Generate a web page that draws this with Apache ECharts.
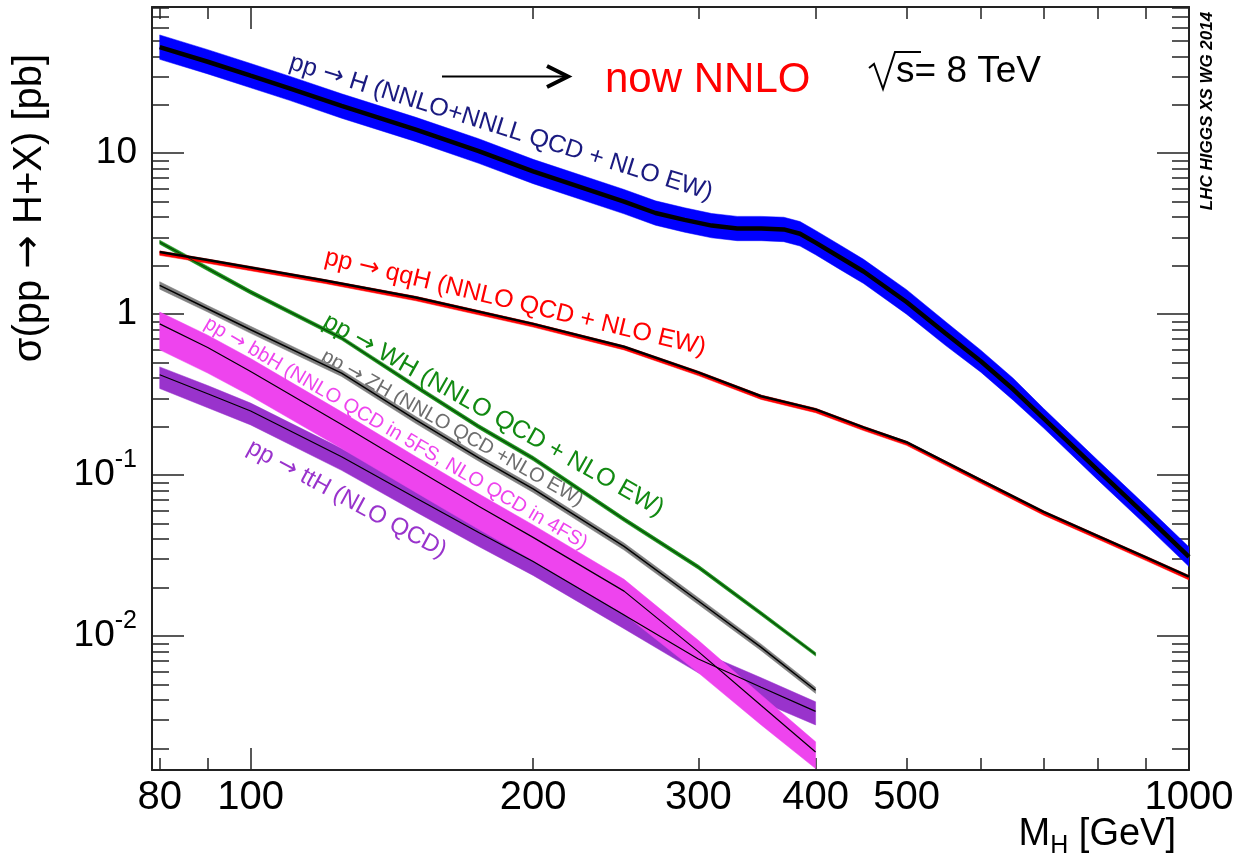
<!DOCTYPE html>
<html>
<head>
<meta charset="utf-8">
<script src="https://cdn.jsdelivr.net/npm/echarts@6.0.0/dist/echarts.min.js"></script>
<style>
  html, body { margin: 0; padding: 0; background: #fff; }
  #main { width: 1234px; height: 864px; }
</style>
</head>
<body>
<div id="main"></div>
<script>
// Higgs mass points (GeV) and cross sections (pb)
var massGGF = [80, 90, 100, 110, 125, 150, 175, 200, 250, 270, 290, 310, 330, 350, 370, 385, 400, 425, 450, 500, 550, 600, 650, 700, 800, 900, 1000];
var ggF   = [45.6, 37.0, 30.3, 25.3, 19.7, 14.0, 10.3, 7.7, 5.0, 4.25, 3.85, 3.55, 3.40, 3.40, 3.36, 3.16, 2.78, 2.25, 1.84, 1.19, 0.76, 0.51, 0.34, 0.225, 0.107, 0.056, 0.031];
var ggFHi = [54.3, 44.0, 36.1, 30.1, 23.4, 16.7, 12.3, 9.16, 5.95, 5.06, 4.58, 4.22, 4.05, 4.05, 4.00, 3.76, 3.31, 2.68, 2.19, 1.42, 0.90, 0.597, 0.398, 0.259, 0.123, 0.0644, 0.0357];
var ggFLo = [38.3, 31.1, 25.5, 21.3, 16.5, 11.8, 8.65, 6.47, 4.20, 3.57, 3.23, 2.98, 2.86, 2.86, 2.82, 2.65, 2.34, 1.89, 1.55, 1.00, 0.64, 0.436, 0.291, 0.196, 0.093, 0.0487, 0.027];

var massVBF = [80, 90, 100, 120, 150, 200, 250, 300, 350, 400, 450, 500, 600, 700, 800, 900, 1000];
var vbf   = [2.43, 2.17, 1.95, 1.62, 1.27, 0.87, 0.627, 0.435, 0.309, 0.256, 0.198, 0.16, 0.093, 0.059, 0.0418, 0.0308, 0.0234];
var vbfHi = [2.47, 2.20, 1.98, 1.64, 1.29, 0.883, 0.636, 0.442, 0.314, 0.260, 0.201, 0.162, 0.0944, 0.0599, 0.0424, 0.0313, 0.0238];
var vbfLo = [2.32, 2.07, 1.86, 1.55, 1.21, 0.831, 0.599, 0.415, 0.295, 0.244, 0.189, 0.153, 0.0888, 0.0563, 0.0399, 0.0294, 0.0223];

// the associated production curves stop at 400 GeV
var massLow = [80, 90, 100, 125, 150, 175, 200, 250, 300, 350, 400];
var wh    = [2.80, 1.92, 1.37, 0.71, 0.355, 0.20, 0.127, 0.053, 0.0268, 0.0138, 0.0077];
var whHi  = [2.88, 1.98, 1.41, 0.73, 0.366, 0.206, 0.131, 0.0546, 0.0276, 0.0142, 0.0079];
var whLo  = [2.72, 1.86, 1.33, 0.69, 0.344, 0.194, 0.123, 0.0514, 0.0260, 0.0134, 0.0075];
var zh    = [1.51, 1.08, 0.80, 0.43, 0.22, 0.128, 0.082, 0.036, 0.0165, 0.0085, 0.0046];
var zhHi  = [1.59, 1.13, 0.84, 0.45, 0.231, 0.134, 0.086, 0.0378, 0.0173, 0.0089, 0.0048];
var zhLo  = [1.43, 1.03, 0.76, 0.41, 0.209, 0.122, 0.078, 0.0342, 0.0157, 0.0081, 0.0044];
var bbh   = [0.87, 0.62, 0.44, 0.206, 0.109, 0.064, 0.041, 0.019, 0.0080, 0.0037, 0.0019];
var bbhHi = [1.03, 0.74, 0.53, 0.247, 0.130, 0.0765, 0.049, 0.0225, 0.0094, 0.0043, 0.0022];
var bbhLo = [0.60, 0.43, 0.31, 0.146, 0.078, 0.046, 0.0295, 0.0137, 0.0059, 0.0028, 0.0015];
var tth   = [0.42, 0.32, 0.25, 0.13, 0.072, 0.044, 0.029, 0.0135, 0.0072, 0.0048, 0.0034];
var tthHi = [0.47, 0.36, 0.28, 0.146, 0.081, 0.0495, 0.0325, 0.0152, 0.0081, 0.0055, 0.0039];
var tthLo = [0.345, 0.262, 0.205, 0.107, 0.059, 0.036, 0.0238, 0.0111, 0.0059, 0.0039, 0.0028];

// axis ticks and labels
var xLabels = [80, 100, 200, 300, 400, 500, 1000];
var xMajor = [100, 1000];
var xMinor = [80, 90, 200, 300, 400, 500, 600, 700, 800, 900];
var yLabels = [0.01, 0.1, 1, 10];
var yMinor = [0.002, 0.003, 0.004, 0.005, 0.006, 0.007, 0.008, 0.009,
              0.02, 0.03, 0.04, 0.05, 0.06, 0.07, 0.08, 0.09,
              0.2, 0.3, 0.4, 0.5, 0.6, 0.7, 0.8, 0.9,
              2, 3, 4, 5, 6, 7, 8, 9,
              20, 30, 40, 50, 60, 70, 80];

var FONT = '"Liberation Sans", Arial, Helvetica, sans-serif';
var ARROW_FONT = '"DejaVu Sans", sans-serif';
var X_MIN = 78.5, X_MAX = 1000, Y_MIN = 0.00147, Y_MAX = 81;
var AX = '#222';

function pairs(xs, ys) {
  return xs.map(function (x, i) { return [x, ys[i]]; });
}

// filled uncertainty band drawn as one polygon through the axis scales
function band(xs, lo, hi, color) {
  return {
    type: 'custom',
    clip: true,
    silent: true,
    data: xs.map(function (x, i) { return [x, lo[i], hi[i]]; }),
    encode: { x: 0, y: [1, 2] },
    renderItem: function (params, api) {
      if (params.dataIndex !== 0) return null;
      var pts = [];
      for (var i = 0; i < xs.length; i++) pts.push(api.coord([xs[i], hi[i]]));
      for (var j = xs.length - 1; j >= 0; j--) pts.push(api.coord([xs[j], lo[j]]));
      return { type: 'polygon', shape: { points: pts }, style: { fill: color, stroke: color, lineWidth: 0.5 } };
    }
  };
}

function curve(xs, ys, width, color) {
  return {
    type: 'line',
    silent: true,
    symbol: 'none',
    data: pairs(xs, ys),
    lineStyle: { color: color || '#000', width: width }
  };
}

function xAxisDef(pos, ticks, len, withLine, labels) {
  return {
    type: 'log', min: X_MIN, max: X_MAX, position: pos,
    axisLine: { show: withLine, onZero: false, lineStyle: { color: AX, width: 2 } },
    axisTick: { show: true, inside: true, length: len, customValues: ticks, lineStyle: { color: AX, width: 1.5 } },
    axisLabel: labels ? {
      customValues: labels, fontSize: 40, fontFamily: FONT, color: '#000', margin: 8,
      formatter: function (v) { return String(Math.round(v)); }
    } : { show: false },
    splitLine: { show: false }
  };
}

function yAxisDef(pos, ticks, len, withLine, labels) {
  return {
    type: 'log', min: Y_MIN, max: Y_MAX, position: pos,
    axisLine: { show: withLine, onZero: false, lineStyle: { color: AX, width: 2 } },
    axisTick: { show: true, inside: true, length: len, customValues: ticks, lineStyle: { color: AX, width: 1.5 } },
    axisLabel: labels ? {
      customValues: labels, fontSize: 37, fontFamily: FONT, color: '#000', margin: 15,
      formatter: function (v) {
        if (v >= 1) return String(Math.round(v));
        return '10{s|' + Math.round(Math.log(v) / Math.LN10) + '}';
      },
      rich: { s: { fontSize: 25, fontFamily: FONT, color: '#000', padding: [0, 0, 30, 0] } }
    } : { show: false },
    splitLine: { show: false }
  };
}

// rotated curve label; the arrow comes from DejaVu Sans so it is long like ROOT's
function label(text, x, y, deg, size, color) {
  return {
    type: 'text', x: x, y: y, rotation: -deg * Math.PI / 180, silent: true,
    style: {
      text: text.replace('->', '{a|\u2192}'), fill: color, font: size + 'px ' + FONT,
      align: 'left', verticalAlign: 'middle',
      rich: { a: { fontFamily: ARROW_FONT, fontSize: size, fill: color } }
    }
  };
}

var chart = echarts.init(document.getElementById('main'));

var option = {
  animation: false,
  backgroundColor: '#fff',
  grid: { left: 152, right: 45, top: 7, bottom: 94, outerBoundsMode: 'none' },
  xAxis: [
    xAxisDef('bottom', xMajor, 22, true, xLabels),
    xAxisDef('bottom', xMinor, 12, false, null),
    xAxisDef('top', xMajor, 22, true, null),
    xAxisDef('top', xMinor, 12, false, null)
  ],
  yAxis: [
    yAxisDef('left', yLabels, 32, true, yLabels),
    yAxisDef('left', yMinor, 17, false, null),
    yAxisDef('right', yLabels, 32, true, null),
    yAxisDef('right', yMinor, 17, false, null)
  ],
  series: [
    band(massLow, tthLo, tthHi, '#9933cc'),
    curve(massLow, tth, 1.2),
    band(massLow, bbhLo, bbhHi, '#ee44ee'),
    curve(massLow, bbh, 1.2),
    band(massLow, zhLo, zhHi, '#808080'),
    curve(massLow, zh, 1.5),
    band(massLow, whLo, whHi, '#128a12'),
    curve(massLow, wh, 1, '#0a3a0a'),
    band(massVBF, vbfLo, vbfHi, '#ff0000'),
    curve(massVBF, vbf, 2.5),
    band(massGGF, ggFLo, ggFHi, '#0000ff'),
    curve(massGGF, ggF, 4.5)
  ],
  graphic: [
    label('pp -> H (NNLO+NNLL QCD + NLO EW)', 290, 62, 17.3, 25, '#1a1a80'),
    label('pp -> qqH (NNLO QCD + NLO EW)', 325, 257, 13.5, 25, '#ff0000'),
    label('pp -> WH (NNLO QCD + NLO EW)', 325, 320, 29.5, 25, '#128a12'),
    label('pp -> ZH (NNLO QCD +NLO EW)', 323, 355, 29.5, 20, '#6e6e6e'),
    label('pp -> bbH (NNLO QCD in 5FS, NLO QCD in 4FS)', 206, 322, 30.4, 20, '#ee44ee'),
    label('pp -> ttH (NLO QCD)', 249, 446, 28.5, 24, '#9933cc'),
    {
      type: 'text', x: 30, y: 208, rotation: Math.PI / 2, silent: true,
      style: {
        text: '\u03c3(pp {a|\u2192} H+X) [pb]', fill: '#000', font: '40px ' + FONT, align: 'center', verticalAlign: 'middle',
        rich: { a: { fontFamily: ARROW_FONT, fontSize: 40, fill: '#000' } }
      }
    },
    {
      type: 'text', x: 1176, y: 835, silent: true,
      style: {
        text: 'M{sub|H} [GeV]', fill: '#000', font: '38px ' + FONT, align: 'right', verticalAlign: 'middle',
        rich: { sub: { fontSize: 25, fontFamily: FONT, fill: '#000', padding: [22, 0, 0, 0] } }
      }
    },
    {
      type: 'text', x: 1207, y: 111, rotation: Math.PI / 2, silent: true,
      style: { text: 'LHC HIGGS XS WG 2014', fill: '#000', font: 'italic bold 17px ' + FONT, align: 'center', verticalAlign: 'middle' }
    },
    {
      type: 'text', x: 605, y: 80, silent: true,
      style: { text: 'now NNLO', fill: '#ff0000', font: '42px ' + FONT, align: 'left', verticalAlign: 'middle' }
    },
    // sqrt(s) = 8 TeV, radical sign drawn as a stroke
    {
      type: 'text', x: 896, y: 72, silent: true,
      style: { text: 's= 8 TeV', fill: '#000', font: '37px ' + FONT, align: 'left', verticalAlign: 'middle' }
    },
    {
      type: 'polyline', silent: true,
      shape: { points: [[869, 68], [874, 64], [883, 89], [895, 52], [921, 52]] },
      style: { stroke: '#000', lineWidth: 2, fill: null }
    },
    { type: 'line', silent: true, shape: { x1: 442, y1: 76.5, x2: 566, y2: 76.5 }, style: { stroke: '#000', lineWidth: 2 } },
    { type: 'polyline', silent: true, shape: { points: [[547, 66], [568, 76.5], [547, 87]] }, style: { stroke: '#000', lineWidth: 4, fill: null } }
  ]
};

chart.setOption(option);
</script>
</body>
</html>
